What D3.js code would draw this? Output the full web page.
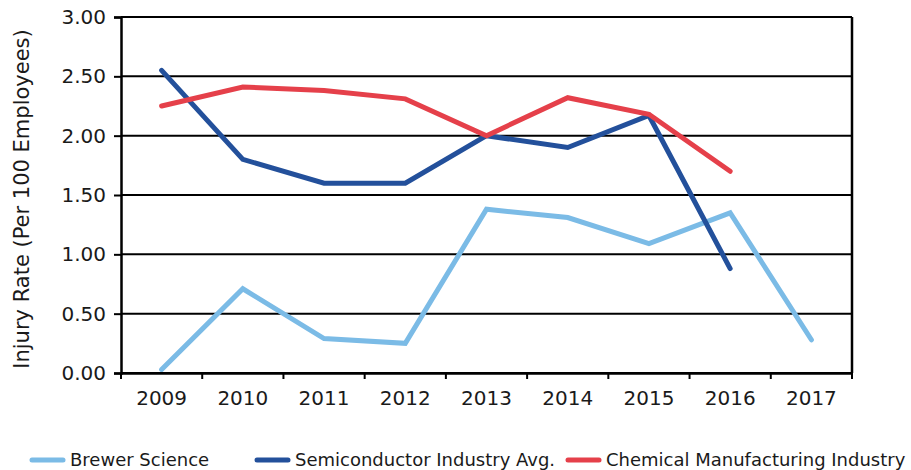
<!DOCTYPE html>
<html><head><meta charset="utf-8">
<script src="https://cdn.jsdelivr.net/npm/d3@7"></script>
<style>body{margin:0;background:#fff}svg{display:block}text{font-family:"DejaVu Sans",sans-serif;fill:#1a1a1a}</style>
</head><body><svg id="c" width="911" height="470"></svg>
<script>
const years = ["2009","2010","2011","2012","2013","2014","2015","2016","2017"];
const brewer = [0.03,0.71,0.29,0.25,1.38,1.31,1.09,1.35,0.28];
const semi = [2.55,1.80,1.60,1.60,2.00,1.90,2.17,0.88,null];
const chem = [2.25,2.41,2.38,2.31,2.00,2.32,2.18,1.70,null];
const yTicks = [0,0.5,1,1.5,2,2.5,3];
const seriesNames = ["Brewer Science","Semiconductor Industry Avg.","Chemical Manufacturing Industry"];
const colors = ["#7bbbe6","#23509b","#e5404a"];

const W=911,H=470,m={l:121,t:17,r:59,b:97};
const svg=d3.select("#c");
const x=d3.scaleBand().domain(years).range([m.l,W-m.r]);
const y=d3.scaleLinear().domain([0,3]).range([H-m.b,m.t]);

// gridlines
svg.append("g").selectAll("line").data(yTicks).join("line")
 .attr("x1",m.l).attr("x2",W-m.r).attr("y1",d=>y(d)).attr("y2",d=>y(d))
 .attr("stroke","#000").attr("stroke-width",2);
// right border
svg.append("line").attr("x1",W-m.r).attr("x2",W-m.r).attr("y1",m.t).attr("y2",H-m.b).attr("stroke","#000").attr("stroke-width",2.5);

const ya=svg.append("g").attr("transform",`translate(${m.l},0)`)
 .call(d3.axisLeft(y).tickValues(yTicks).tickFormat(d3.format(".2f")).tickSize(7).tickPadding(8));
const xa=svg.append("g").attr("transform",`translate(0,${H-m.b})`)
 .call(d3.axisBottom(x).tickSize(0).tickPadding(18));
// x ticks at band boundaries
const bounds=years.map(d=>x(d)).concat([x(years[years.length-1])+x.bandwidth()]);
xa.selectAll("line.b").data(bounds).join("line").attr("class","b")
 .attr("x1",d=>d).attr("x2",d=>d).attr("y1",0).attr("y2",6).attr("stroke","#000").attr("stroke-width",2);
[ya,xa].forEach(a=>{a.select(".domain").attr("stroke","#000").attr("stroke-width",2.5);
 a.selectAll(".tick line").attr("stroke","#000").attr("stroke-width",2);
 a.selectAll("text").style("font-size","20px").attr("fill","#1a1a1a");});

const line=d3.line().defined(d=>d.v!=null).x(d=>x(d.k)+x.bandwidth()/2).y(d=>y(d.v));
[brewer,semi,chem].forEach((s,i)=>{
 svg.append("path").datum(years.map((k,j)=>({k,v:s[j]})))
  .attr("d",line).attr("fill","none").attr("stroke",colors[i]).attr("stroke-width",5)
  .attr("stroke-linejoin","miter").attr("stroke-linecap","round");
});

svg.append("text").attr("transform",`translate(29,${(m.t+H-m.b)/2+4}) rotate(-90)`)
 .attr("text-anchor","middle").style("font-size","21px").text("Injury Rate (Per 100 Employees)");

// legend
const lx=[32,257,568];
seriesNames.forEach((n,i)=>{
 const g=svg.append("g").attr("transform",`translate(${lx[i]},460)`);
 g.append("line").attr("x1",0).attr("x2",31).attr("stroke",colors[i]).attr("stroke-width",5).attr("stroke-linecap","round");
 g.append("text").attr("x",38).attr("y",6).style("font-size","18px").text(n);
});
</script></body></html>
